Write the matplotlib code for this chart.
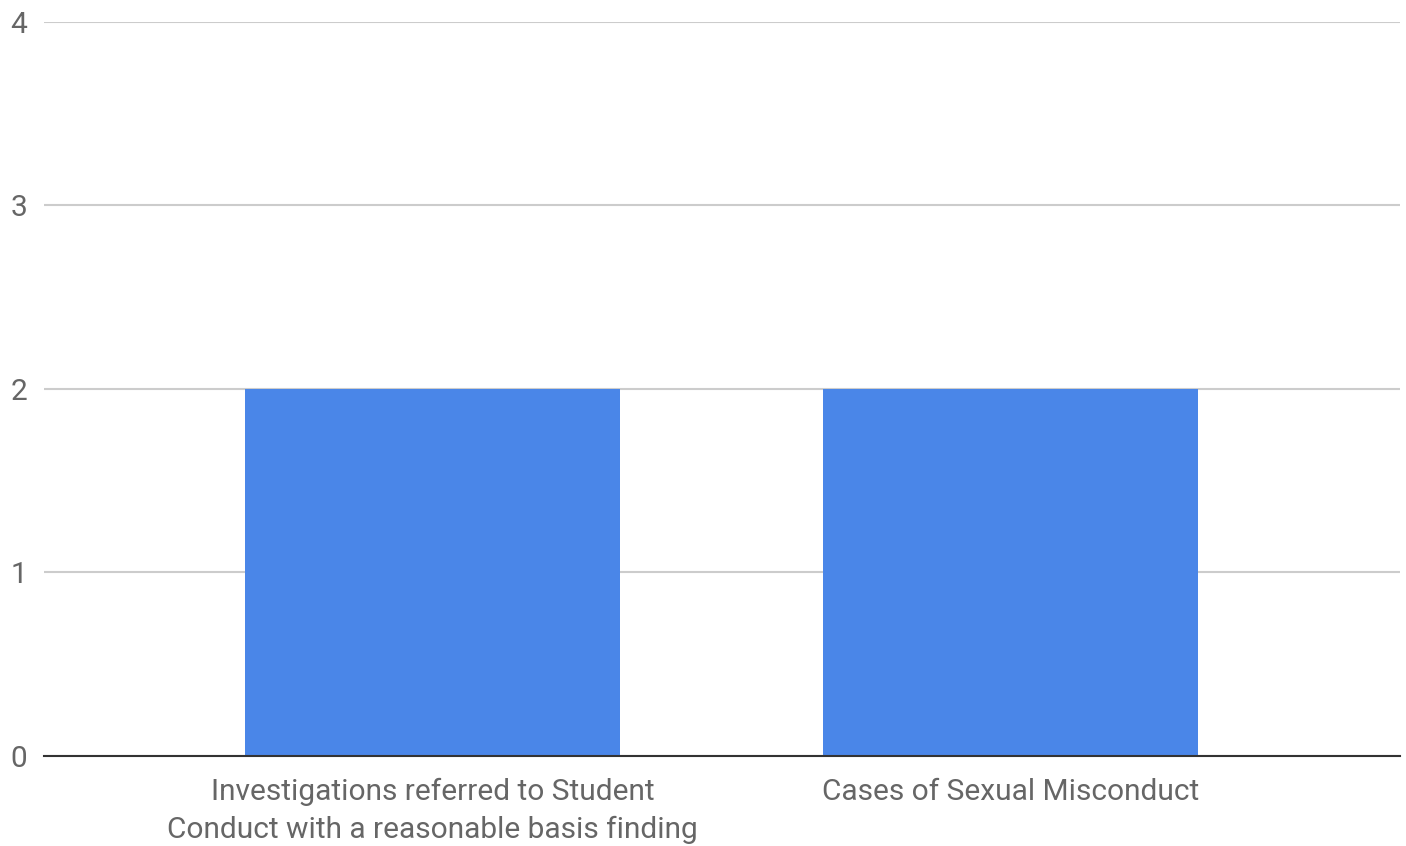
import matplotlib
matplotlib.use("Agg")
import matplotlib.pyplot as plt

plt.rcParams['font.family'] = ['Roboto', 'DejaVu Sans']

categories = ["Investigations referred to Student\nConduct with a reasonable basis finding",
              "Cases of Sexual Misconduct"]
values = [2, 2]
yticks = [0, 1, 2, 3, 4]

fig = plt.figure(figsize=(14.06, 8.46), dpi=100)
ax = fig.add_axes([0.0313, 0.1064, 0.9644, 0.8676])

ax.bar(range(len(categories)), values, width=0.649, color='#4a86e8', zorder=3)

ax.set_xlim(-0.672, 1.673)
ax.set_ylim(0, 4)
ax.set_yticks(yticks)
ax.yaxis.grid(True, color='#cccccc', linewidth=1.5, zorder=0)
ax.set_xticks(range(len(categories)))
ax.set_xticklabels(categories, linespacing=1.42)

for s in ['top', 'right', 'left']:
    ax.spines[s].set_visible(False)
ax.spines['bottom'].set_color('#333333')
ax.spines['bottom'].set_linewidth(1.5)
ax.spines['bottom'].set_zorder(4)

ax.tick_params(axis='both', length=0, labelsize=21.5, colors='#666666')
ax.tick_params(axis='y', pad=12)
ax.tick_params(axis='x', pad=16)

fig.savefig("out.png", dpi=100)
